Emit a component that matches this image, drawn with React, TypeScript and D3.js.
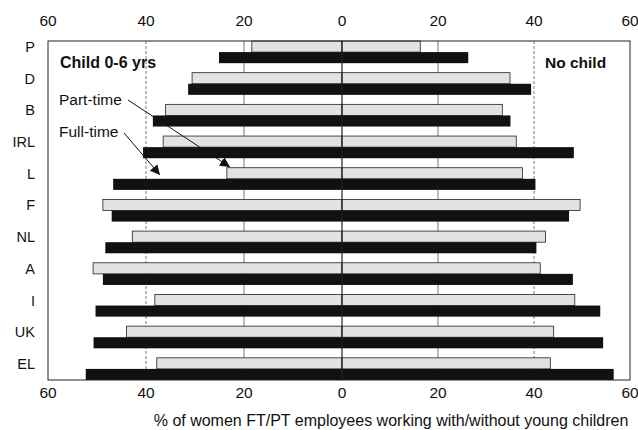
import * as d3 from "d3";

const categories = ["P", "D", "B", "IRL", "L", "F", "NL", "A", "I", "UK", "EL"];
// with child 0-6 yrs (drawn to the left)
const childPartTime = [18.4, 30.6, 36, 36.5, 23.5, 48.8, 42.8, 50.8, 38.2, 44, 37.8];
const childFullTime = [25.1, 31.4, 38.6, 40.6, 46.7, 47, 48.3, 48.8, 50.3, 50.7, 52.3];
// no child (drawn to the right)
const noChildPartTime = [16.3, 35, 33.4, 36.3, 37.6, 49.6, 42.4, 41.3, 48.5, 44.1, 43.4];
const noChildFullTime = [26.3, 39.4, 35.1, 48.3, 40.3, 47.3, 40.5, 48.1, 53.8, 54.4, 56.6];
const ticks = [-60, -40, -20, 0, 20, 40, 60];

const W = 638;
const H = 430;
const font = "'Liberation Sans', Arial, sans-serif";

export default function App() {
  const x = d3.scaleLinear().domain([-60, 0, 60]).range([48, 342, 630]);
  const y = d3
    .scaleBand<string>()
    .domain(categories)
    .range([41, 380])
    .paddingInner(0.3)
    .paddingOuter(0);
  const bh = y.bandwidth() / 2;
  const top = 41;
  const bottom = 380;

  const bar = (v: number, side: number) =>
    side < 0
      ? { x: x(-v), w: x(0) - x(-v) }
      : { x: x(0), w: x(v) - x(0) };

  return (
    <svg
      width={W}
      height={H}
      style={{ position: "absolute", left: 0, top: 0, background: "#fff" }}
      fontFamily={font}
    >
      <defs>
        <marker
          id="arr"
          viewBox="0 0 10 10"
          refX="10"
          refY="5"
          markerWidth="10"
          markerHeight="10"
          orient="auto"
        >
          <path d="M0,0 L10,5 L0,10 z" fill="#111" />
        </marker>
      </defs>
      <rect x={x(-60)} y={top} width={x(60) - x(-60)} height={bottom - top} fill="#fff" />
      {/* gridlines */}
      {ticks
        .filter((t) => Math.abs(t) === 20)
        .map((t) => (
          <line key={"g" + t} x1={x(t)} x2={x(t)} y1={top} y2={bottom} stroke="#555" strokeWidth={0.8} />
        ))}
      {ticks
        .filter((t) => Math.abs(t) === 40)
        .map((t) => (
          <line
            key={"d" + t}
            x1={x(t)}
            x2={x(t)}
            y1={top}
            y2={bottom}
            stroke="#555"
            strokeWidth={0.8}
            strokeDasharray="3,2"
          />
        ))}
      {/* bars */}
      {categories.map((c, i) => {
        const y0 = y(c) as number;
        const lp = bar(childPartTime[i], -1);
        const lf = bar(childFullTime[i], -1);
        const rp = bar(noChildPartTime[i], 1);
        const rf = bar(noChildFullTime[i], 1);
        return (
          <g key={c}>
            <rect x={lp.x} y={y0} width={lp.w} height={bh} fill="#e2e2e2" stroke="#222" strokeWidth={0.8} />
            <rect x={rp.x} y={y0} width={rp.w} height={bh} fill="#e2e2e2" stroke="#222" strokeWidth={0.8} />
            <rect x={lf.x} y={y0 + bh} width={lf.w} height={bh} fill="#111" />
            <rect x={rf.x} y={y0 + bh} width={rf.w} height={bh} fill="#111" />
            <text
              x={35}
              y={y0 + bh * 0.5 + 5.5}
              textAnchor="end"
              fontSize={14.5}
              fill="#111"
            >
              {c}
            </text>
          </g>
        );
      })}
      {/* zero line */}
      <line x1={x(0)} x2={x(0)} y1={top} y2={bottom} stroke="#222" strokeWidth={1.2} />
      {/* frame */}
      <rect x={x(-60)} y={top} width={x(60) - x(-60)} height={bottom - top} fill="none" stroke="#222" strokeWidth={1} />
      {/* tick labels */}
      {ticks.map((t) => (
        <g key={"t" + t}>
          <text x={x(t)} y={26} textAnchor="middle" fontSize={15.5} fill="#111">
            {Math.abs(t)}
          </text>
          <text x={x(t)} y={398} textAnchor="middle" fontSize={15.5} fill="#111">
            {Math.abs(t)}
          </text>
        </g>
      ))}
      <text x={391} y={426} textAnchor="middle" fontSize={16} fill="#111">
        % of women FT/PT employees working with/without young children
      </text>
      <text x={60} y={68} fontSize={16} fontWeight="bold" fill="#111">
        Child 0-6 yrs
      </text>
      <text x={545} y={68} fontSize={15.5} fontWeight="bold" fill="#111">
        No child
      </text>
      <text x={59} y={105} fontSize={15.5} fill="#111">
        Part-time
      </text>
      <text x={59} y={137} fontSize={15.5} fill="#111">
        Full-time
      </text>
      <line x1={128} y1={100} x2={230} y2={167} stroke="#111" strokeWidth={1} markerEnd="url(#arr)" />
      <line x1={124} y1={133} x2={160} y2={175} stroke="#111" strokeWidth={1} markerEnd="url(#arr)" />
    </svg>
  );
}
